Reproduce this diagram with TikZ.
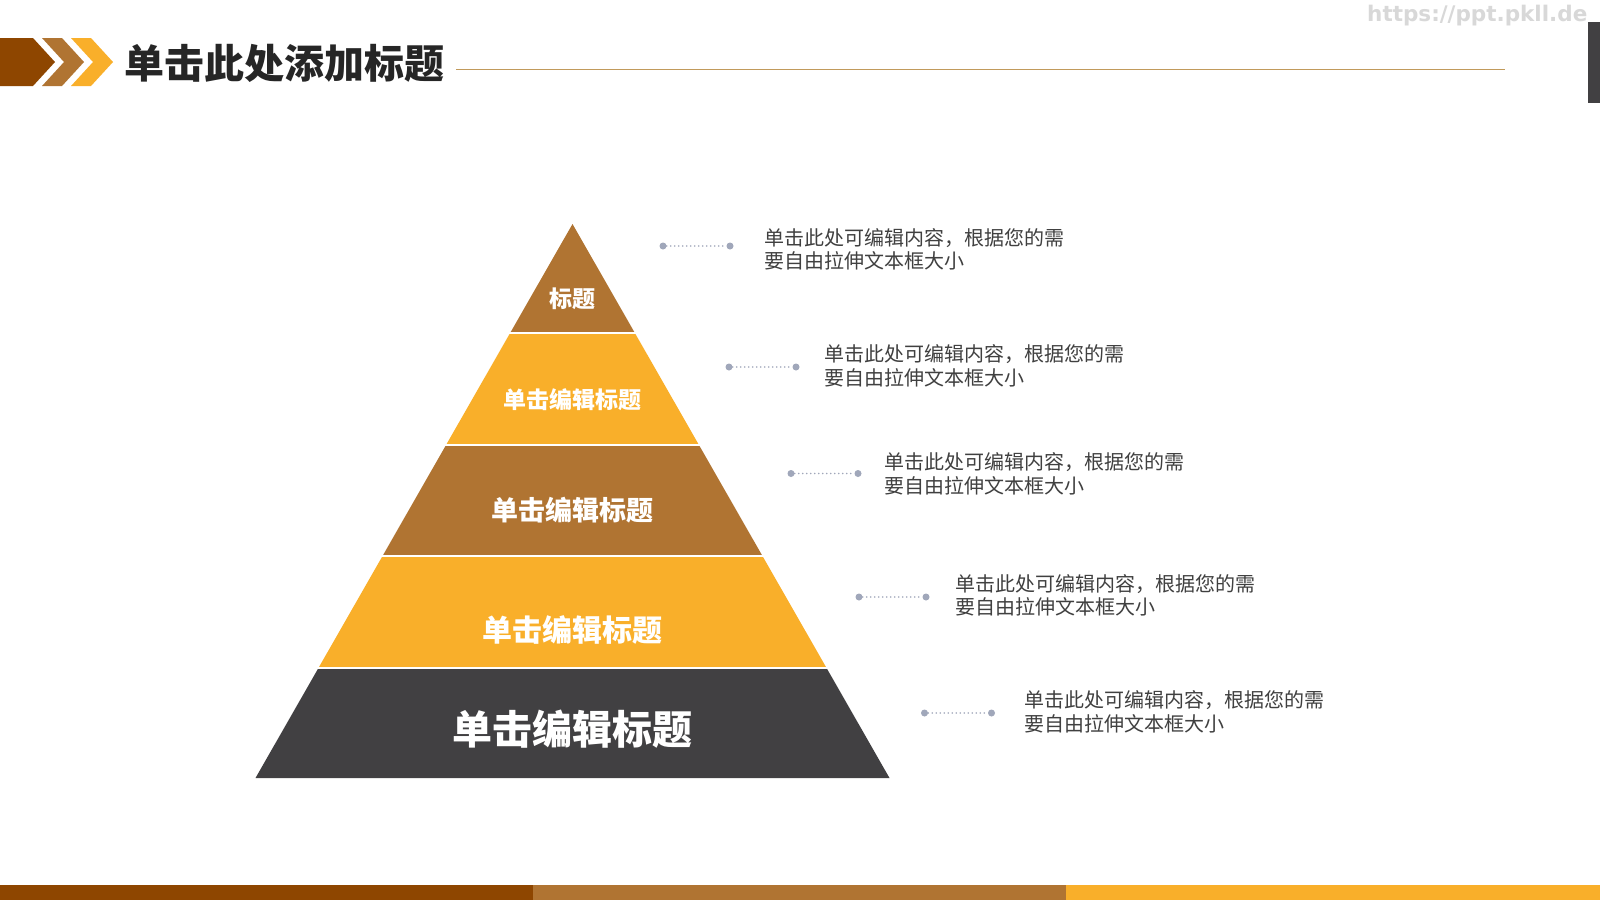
\documentclass[tikz,border=0pt]{standalone}
\usepackage{fontspec}
\setmainfont{Noto Sans CJK SC}
\newfontfamily\urlfont{DejaVu Sans}
\definecolor{brn}{HTML}{8E4600}
\definecolor{pyrtan}{HTML}{B07432}
\definecolor{org}{HTML}{F9AF2A}
\definecolor{drk}{HTML}{414042}
\definecolor{txt}{HTML}{404040}
\definecolor{dotc}{HTML}{A0A7BA}
\definecolor{rulec}{HTML}{C19A5B}
\definecolor{wm}{HTML}{D8D8D8}
\begin{document}
\begin{tikzpicture}[x=1pt, y=-1pt, line join=round,
	tier/.style={font=\bfseries\fontsize{#1}{#1}\selectfont, text=white, inner sep=0pt},
	desc/.style={anchor=west, align=left, text=txt, font=\fontsize{20}{23.5}\selectfont, inner sep=0pt},
	enddot/.style={circle, fill=dotc, inner sep=0pt, minimum size=7pt},
	link/.style={dotc, line width=1.6pt, dash pattern=on 0pt off 4pt, line cap=round}]
		\useasboundingbox (0,0) rectangle (1600,900);
		\fill[white] (0,0) rectangle (1600,900);
		\fill[brn] (0,38) -- (33,38) -- (55,62) -- (33,86) -- (0,86) -- cycle;
		\fill[pyrtan] (42,38) -- (62,38) -- (84,62) -- (62,86) -- (42,86) -- (64,62) -- cycle;
		\fill[org] (71,38) -- (91,38) -- (113,62) -- (91,86) -- (71,86) -- (93,62) -- cycle;
		\node[anchor=west, inner sep=0pt, text=black!85, font=\bfseries\fontsize{40}{40}\selectfont] (title) at (124,63) {单击此处添加标题};
		\coordinate (rs) at (456,69);
		\coordinate (re) at (1505,69);
		\draw[rulec, line width=1pt] (rs) -- (re);
		\node[anchor=west, inner sep=0pt, text=wm, font=\urlfont\bfseries\fontsize{21.5}{21.5}\selectfont] (url) at (1367,16) {https://ppt.pkll.de};
		\fill[drk] (1588,22) rectangle (1600,103);
		\foreach \ya/\yb/\c in {224/333/pyrtan, 333/445/org, 445/556/pyrtan, 556/668/org, 668/778/drk}
			\fill[\c] ({572.5-0.5722*(\ya-224)},\ya) -- ({572.5+0.5722*(\ya-224)},\ya) -- ({572.5+0.5722*(\yb-224)},\yb) -- ({572.5-0.5722*(\yb-224)},\yb) -- cycle;
		\foreach \y in {333,445,556,668}
			\draw[white, line width=2pt] ({569.5-0.5722*(\y-224)},\y) -- ({575.5+0.5722*(\y-224)},\y);
		\node[tier=23] (t1) at (572.5,299) {标题};
		\node[tier=23] (t2) at (572.5,400) {单击编辑标题};
		\node[tier=27] (t3) at (572.5,510) {单击编辑标题};
		\node[tier=30] (t4) at (572.5,630) {单击编辑标题};
		\node[tier=40] (t5) at (572.5,729) {单击编辑标题};
		\foreach \xa/\yc/\xt/\yt [count=\i] in {663/246/764/249.5, 729/367/824.5/366, 791/473.5/884.7/474, 859/597/955/595.5, 924.5/713/1024.5/712}{
			\node[enddot] (a\i) at (\xa,\yc) {};
			\node[enddot] (b\i) at ({\xa+67},\yc) {};
			\draw[link] (a\i) -- (b\i);
			\node[desc] (d\i) at (\xt,\yt) {单击此处可编辑内容，根据您的需\\要自由拉伸文本框大小};
		}
		\fill[brn] (0,885) rectangle (533,900);
		\fill[pyrtan] (533,885) rectangle (1066,900);
		\fill[org] (1066,885) rectangle (1600,900);
\end{tikzpicture}
\end{document}
